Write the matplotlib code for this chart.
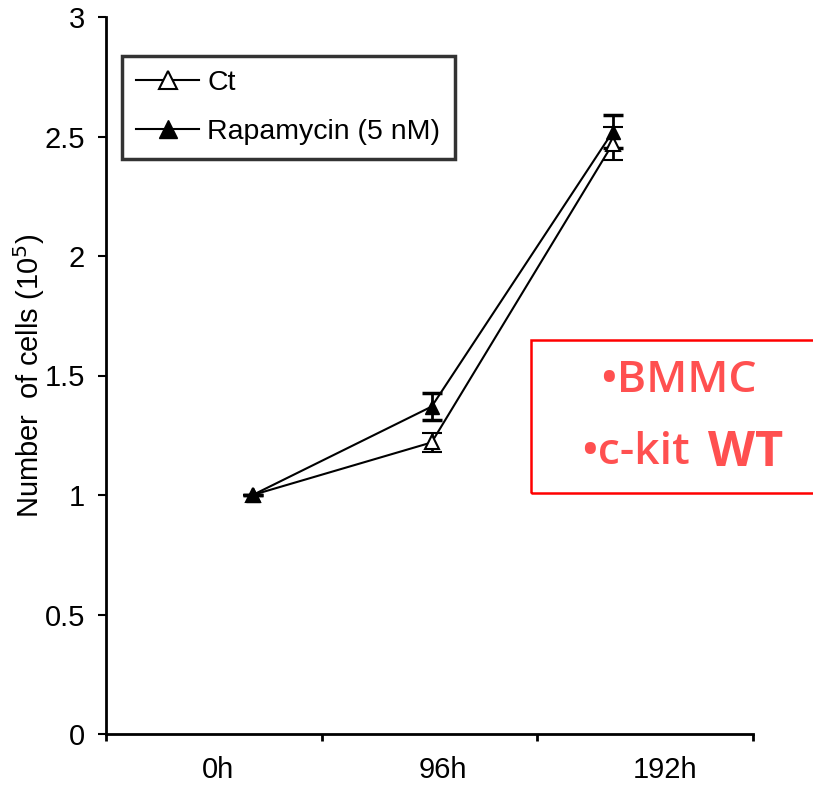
import numpy as np
import matplotlib.pyplot as plt
from matplotlib.patches import Rectangle
from matplotlib.lines import Line2D

plt.rcParams["font.family"] = ["Liberation Sans", "DejaVu Sans"]

# category labels and where they sit along the x axis
time_labels = ["0h", "96h", "192h"]
label_pos = [0.52, 1.56, 2.59]

# point positions (the markers sit off-centre in the original figure)
x_pos = [0.68, 1.51, 2.35]

ct_mean = [1.0, 1.22, 2.47]
ct_err = [0.0, 0.04, 0.07]
rapa_mean = [1.0, 1.37, 2.52]
rapa_err = [0.0, 0.055, 0.07]

fig = plt.figure(figsize=(8.13, 7.85), dpi=100)
ax = fig.add_axes([106 / 813, 51 / 785, 647 / 813, 717 / 785])

ax.errorbar(x_pos, ct_mean, yerr=ct_err, color="black", lw=1.5,
            marker="^", markersize=10, markerfacecolor="white",
            markeredgecolor="black", markeredgewidth=1.5,
            ecolor="black", elinewidth=2, capsize=7, capthick=2.5)
ax.errorbar(x_pos, rapa_mean, yerr=rapa_err, color="black", lw=1.5,
            marker="^", markersize=10, markerfacecolor="black",
            markeredgecolor="black",
            ecolor="black", elinewidth=2, capsize=7, capthick=2.5)

ax.set_xlim(0, 3)
ax.set_ylim(0, 3)
ax.set_yticks([0, 0.5, 1, 1.5, 2, 2.5, 3])
ax.set_yticklabels(["0", "0.5", "1", "1.5", "2", "2.5", "3"])
ax.set_xticks([0, 1, 2, 3])
ax.set_xticklabels([])
ax.set_xticks(label_pos, minor=True)
ax.set_xticklabels(time_labels, minor=True)
ax.tick_params(axis="x", which="minor", length=0, pad=16, labelsize=21)
ax.tick_params(axis="x", which="major", length=5, width=2, direction="out")
ax.tick_params(axis="y", length=6, width=1.5, direction="out", pad=9, labelsize=21)

for side in ["top", "right"]:
    ax.spines[side].set_visible(False)
for side in ["left", "bottom"]:
    ax.spines[side].set_linewidth(2)

fig.text(29 / 813, 1 - 376 / 785, "Number  of cells (10$^5$)", fontsize=21,
         rotation=90, ha="center", va="center")

handles = [
    Line2D([], [], color="black", lw=1.5, marker="^", markersize=13,
           markerfacecolor="white", markeredgecolor="black", markeredgewidth=1.5),
    Line2D([], [], color="black", lw=1.5, marker="^", markersize=13,
           markerfacecolor="black", markeredgecolor="black"),
]
leg = fig.legend(handles, ["Ct", "Rapamycin (5 nM)"], loc="upper left",
                 bbox_to_anchor=(122 / 813, 1 - 56 / 785),
                 bbox_transform=fig.transFigure, fontsize=20.5,
                 frameon=True, fancybox=False, borderaxespad=0,
                 handlelength=2.2, handletextpad=0.3, labelspacing=0.8,
                 borderpad=0.5, edgecolor="black")
leg.get_frame().set_linewidth(2.5)

# red annotation box
fig.patches.append(Rectangle((531 / 813, 1 - 493 / 785), 290 / 813, 153 / 785,
                             transform=fig.transFigure, fill=False,
                             edgecolor="#ff0000", lw=1.8))
red = "#ff5050"
fig.text(678 / 813, 1 - 380 / 785, "\u2022BMMC", color=red, fontsize=32,
         family="Open Sans", fontweight="semibold", ha="center", va="center")
fig.text(690 / 813, 1 - 453 / 785, "\u2022c-kit", color=red, fontsize=32,
         family="Open Sans", fontweight="semibold", ha="right", va="center")
fig.text(708 / 813, 1 - 453 / 785, "WT", color=red, fontsize=35,
         family="Open Sans", fontweight="bold", ha="left", va="center")

fig.savefig("out.png", dpi=100)
